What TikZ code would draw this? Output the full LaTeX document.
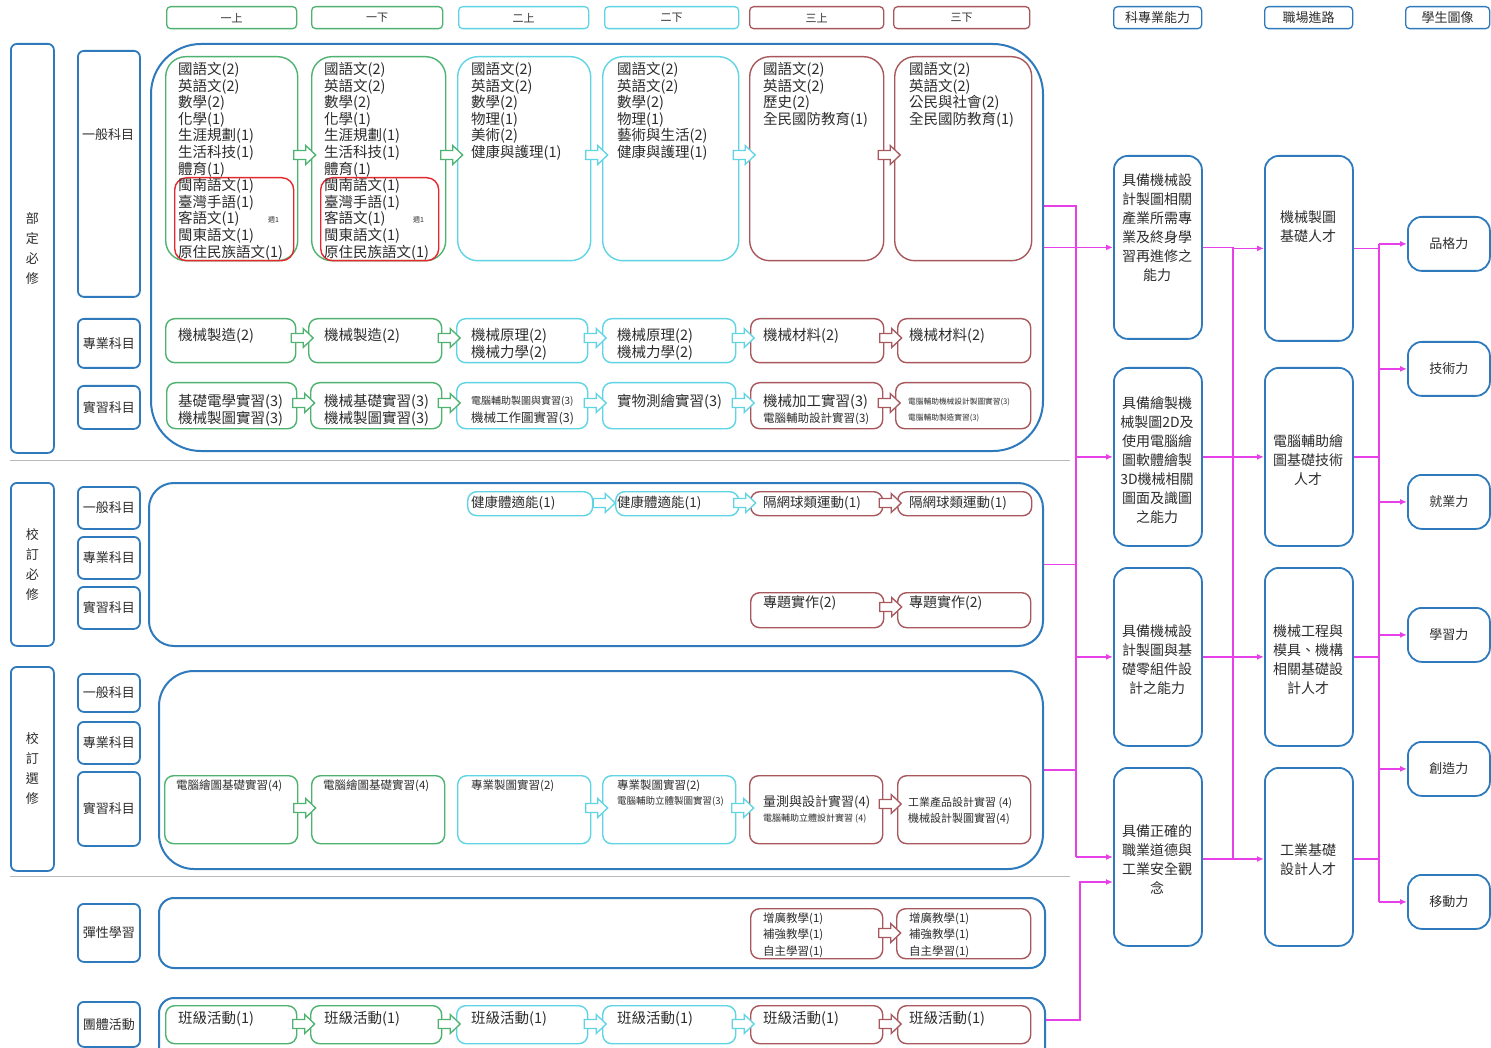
\documentclass[tikz,border=0pt]{standalone}
\usepackage{fontspec}
\setmainfont{Noto Sans CJK TC}
\usetikzlibrary{arrows.meta,calc}
\definecolor{cgreen}{RGB}{78,178,112}
\definecolor{ccyan}{RGB}{95,212,228}
\definecolor{cbrown}{RGB}{168,88,92}
\definecolor{cred}{RGB}{228,40,45}
\definecolor{cblue}{RGB}{46,122,188}
\definecolor{cmag}{RGB}{232,64,232}
\definecolor{ctext}{RGB}{45,45,45}
\newcommand\bx[7]{\pgfmathsetmacro\bxw{#5-#3}\pgfmathsetmacro\bxh{#6-#4}%
  \node[#2,minimum width=\bxw pt,minimum height=\bxh pt,anchor=north west] (#1) at (#3,#4) {#7};}
\newcommand\tx[6]{\node[anchor=north west,inner sep=0pt,align=left,text=ctext,font=\fontsize{#4}{#5}\selectfont] (#1) at (#2,{#3-0.48*#4}) {#6};}
\newcommand\ctx[5]{\node[inner sep=0pt,align=center,text=ctext,font=\fontsize{#4}{#5}\selectfont] at (#2,#3) {#1};}
\newcommand\barr[4]{\path ($(#2.east)!0.5!(#3.west)$) coordinate (#2#3mid); \pic[color=#1] at (#2#3mid |- 0,#4) {barr};}
\begin{document}
\begin{tikzpicture}[x=1pt,y=-1pt,
 hd/.style={draw=#1,line width=1.3pt,rounded corners=4pt,inner sep=0pt,font=\fontsize{11}{13}\selectfont,text=ctext},
 lb/.style={draw=cblue,line width=1.8pt,rounded corners=6pt,inner sep=0pt,align=center,font=\fontsize{13}{20}\selectfont,text=ctext},
 cont/.style={draw=cblue,line width=2pt,rounded corners=#1,inner sep=0pt},
 cb/.style={draw=#1,line width=1.4pt,rounded corners=9pt,inner sep=0pt},
 bigb/.style={draw=#1,line width=1.4pt,rounded corners=20pt,inner sep=0pt},
 redb/.style={draw=cred,line width=1.4pt,rounded corners=12pt,inner sep=0pt},
 rb/.style={draw=cblue,line width=1.8pt,rounded corners=14pt,inner sep=0pt,font=\fontsize{13}{15}\selectfont,text=ctext},
 mag/.style={draw=cmag,line width=1.4pt},
 magar/.style={mag,-{Latex[length=7pt,width=6pt]}},
 barr/.pic={\draw[fill=white,line width=1.3pt,line join=miter] (-11,-4.5) -- (1,-4.5) -- (1,-9.5) -- (11,0) -- (1,9.5) -- (1,4.5) -- (-11,4.5) -- cycle;}
]
\useasboundingbox (0,0) rectangle (1491,1048);
\fill[white] (0,0) rectangle (1491,1048);
% headers
\bx{h1}{hd=cgreen}{166}{6}{296}{28}{一上}
\bx{h2}{hd=cgreen}{311}{6}{442}{28}{一下}
\bx{h3}{hd=ccyan}{458}{6}{588}{28}{二上}
\bx{h4}{hd=ccyan}{604}{6}{738}{28}{二下}
\bx{h5}{hd=cbrown}{749}{6}{883}{28}{三上}
\bx{h6}{hd=cbrown}{893}{6}{1029}{28}{三下}
\bx{h7}{hd=cblue,font=\fontsize{13}{15}\selectfont}{1113}{6}{1201}{28}{科專業能力}
\bx{h8}{hd=cblue,font=\fontsize{13}{15}\selectfont}{1264}{6}{1352}{28}{職場進路}
\bx{h9}{hd=cblue,font=\fontsize{13}{15}\selectfont}{1405}{6}{1489}{28}{學生圖像}
% left labels
\bx{L1}{lb}{10}{43}{53}{452}{部\\定\\必\\修}
\bx{L2}{lb}{10}{482}{53}{645}{校\\訂\\必\\修}
\bx{L3}{lb}{10}{666}{53}{870}{校\\訂\\選\\修}
\bx{S1}{lb}{77}{50}{139}{296}{}
\ctx{一般科目}{108}{135}{13}{15}
\bx{S2}{lb}{77}{318}{139}{367}{專業科目}
\bx{S3}{lb}{77}{385}{139}{428}{實習科目}
\bx{S4}{lb}{77}{486}{139}{528}{一般科目}
\bx{S5}{lb}{77}{536}{139}{578}{專業科目}
\bx{S6}{lb}{77}{586}{139}{628}{實習科目}
\bx{S7}{lb}{77}{673}{139}{711}{一般科目}
\bx{S8}{lb}{77}{721}{139}{763}{專業科目}
\bx{S9}{lb}{77}{771}{139}{845}{實習科目}
\bx{S10}{lb}{77}{903}{139}{961}{彈性學習}
\bx{S11}{lb}{77}{1001}{139}{1046}{團體活動}
% separators
\draw[gray!55,line width=0.8pt] (10,460) -- (1070,460);
\draw[gray!55,line width=0.8pt] (10,876) -- (1070,876);
% containers
\bx{K1}{cont=50pt}{150}{43}{1042}{450}{}
\bx{K2}{cont=25pt}{148}{482}{1042}{645}{}
\bx{K3}{cont=35pt}{158}{670}{1042}{868}{}
\bx{K4}{cont=15pt}{158}{897}{1044}{967}{}
\bx{K5}{cont=15pt}{158}{997}{1044}{1066}{}
% row 1 general
\bx{g1}{bigb=cgreen}{165}{56}{297}{260}{}
\bx{r1}{redb}{174}{177}{293}{260}{}
\bx{g2}{bigb=cgreen}{311}{56}{445}{260}{}
\bx{r2}{redb}{320}{177}{438}{260}{}
\bx{g3}{bigb=ccyan}{457}{56}{590}{260}{}
\bx{g4}{bigb=ccyan}{602}{56}{738}{260}{}
\bx{g5}{bigb=cbrown}{749}{56}{883}{260}{}
\bx{g6}{bigb=cbrown}{894}{56}{1031}{260}{}
\tx{t1}{178}{69}{14.5}{16.6}{國語文(2)\\英語文(2)\\數學(2)\\化學(1)\\生涯規劃(1)\\生活科技(1)\\體育(1)\\閩南語文(1)\\臺灣手語(1)\\客語文(1)\\閩東語文(1)\\原住民族語文(1)}
\tx{w1}{268}{220}{7}{8}{週1}
\tx{t2}{324}{69}{14.5}{16.6}{國語文(2)\\英語文(2)\\數學(2)\\化學(1)\\生涯規劃(1)\\生活科技(1)\\體育(1)\\閩南語文(1)\\臺灣手語(1)\\客語文(1)\\閩東語文(1)\\原住民族語文(1)}
\tx{w2}{413}{220}{7}{8}{週1}
\tx{t3}{471}{69}{14.5}{16.6}{國語文(2)\\英語文(2)\\數學(2)\\物理(1)\\美術(2)\\健康與護理(1)}
\tx{t4}{617}{69}{14.5}{16.6}{國語文(2)\\英語文(2)\\數學(2)\\物理(1)\\藝術與生活(2)\\健康與護理(1)}
\tx{t5}{763}{69}{14.5}{16.6}{國語文(2)\\英語文(2)\\歷史(2)\\全民國防教育(1)}
\tx{t6}{909}{69}{14.5}{16.6}{國語文(2)\\英語文(2)\\公民與社會(2)\\全民國防教育(1)}
\barr{cgreen}{g1}{g2}{155}
\barr{cgreen}{g2}{g3}{155}
\barr{ccyan}{g3}{g4}{155}
\barr{ccyan}{g4}{g5}{155}
\barr{cbrown}{g5}{g6}{155}
% row 2 professional
\bx{p1}{cb=cgreen}{165}{318}{295}{362}{}
\bx{p2}{cb=cgreen}{308}{318}{441}{362}{}
\bx{p3}{cb=ccyan}{456}{318}{587}{362}{}
\bx{p4}{cb=ccyan}{602}{318}{735}{362}{}
\bx{p5}{cb=cbrown}{750}{318}{883}{362}{}
\bx{p6}{cb=cbrown}{897}{318}{1030}{362}{}
\tx{tp1}{178}{335}{14.5}{16.6}{機械製造(2)}
\tx{tp2}{324}{335}{14.5}{16.6}{機械製造(2)}
\tx{tp3}{471}{335}{14.5}{16.6}{機械原理(2)\\機械力學(2)}
\tx{tp4}{617}{335}{14.5}{16.6}{機械原理(2)\\機械力學(2)}
\tx{tp5}{763}{335}{14.5}{16.6}{機械材料(2)}
\tx{tp6}{909}{335}{14.5}{16.6}{機械材料(2)}
\barr{cgreen}{p1}{p2}{338}
\barr{cgreen}{p2}{p3}{338}
\barr{ccyan}{p3}{p4}{338}
\barr{ccyan}{p4}{p5}{338}
\barr{cbrown}{p5}{p6}{338}
% row 3 practice
\bx{q1}{cb=cgreen}{166}{382}{296}{428}{}
\bx{q2}{cb=cgreen}{310}{382}{441}{428}{}
\bx{q3}{cb=ccyan}{456}{382}{587}{428}{}
\bx{q4}{cb=ccyan}{602}{382}{735}{428}{}
\bx{q5}{cb=cbrown}{750}{382}{882}{428}{}
\bx{q6}{cb=cbrown}{895}{382}{1030}{428}{}
\tx{tq1}{178}{401}{14.5}{16.6}{基礎電學實習(3)\\機械製圖實習(3)}
\tx{tq2}{324}{401}{14.5}{16.6}{機械基礎實習(3)\\機械製圖實習(3)}
\tx{tq3a}{471}{401}{10}{12}{電腦輔助製圖與實習(3)}
\tx{tq3b}{471}{418}{12.5}{14}{機械工作圖實習(3)}
\tx{tq4}{617}{401}{14.5}{16.6}{實物測繪實習(3)}
\tx{tq5a}{763}{401}{14.5}{16.6}{機械加工實習(3)}
\tx{tq5b}{763}{418}{11.5}{13}{電腦輔助設計實習(3)}
\tx{tq6a}{908}{401}{7.7}{9}{電腦輔助機械設計製圖實習(3)}
\tx{tq6b}{908}{417}{7.7}{9}{電腦輔助製造實習(3)}
\barr{cgreen}{q1}{q2}{403}
\barr{cgreen}{q2}{q3}{403}
\barr{ccyan}{q3}{q4}{403}
\barr{ccyan}{q4}{q5}{403}
\barr{cbrown}{q5}{q6}{403}
% school required
\bx{m3}{cb=ccyan}{467}{491}{592}{515}{}
\bx{m4}{cb=ccyan}{615}{491}{738}{515}{}
\bx{m5}{cb=cbrown}{750}{491}{882}{515}{}
\bx{m6}{cb=cbrown}{897}{491}{1031}{515}{}
\tx{tm3}{471}{502}{13.5}{15}{健康體適能(1)}
\tx{tm4}{617}{502}{13.5}{15}{健康體適能(1)}
\tx{tm5}{763}{502}{13.5}{15}{隔網球類運動(1)}
\tx{tm6}{909}{502}{13.5}{15}{隔網球類運動(1)}
\barr{ccyan}{m3}{m4}{503}
\barr{ccyan}{m4}{m5}{503}
\barr{cbrown}{m5}{m6}{503}
\bx{n5}{cb=cbrown}{750}{592}{883}{627}{}
\bx{n6}{cb=cbrown}{897}{592}{1030}{627}{}
\tx{tn5}{763}{602}{14}{15}{專題實作(2)}
\tx{tn6}{909}{602}{14}{15}{專題實作(2)}
\barr{cbrown}{n5}{n6}{607}
% school elective
\bx{e1}{cb=cgreen}{164}{775}{297}{843}{}
\bx{e2}{cb=cgreen}{311}{775}{444}{843}{}
\bx{e3}{cb=ccyan}{457}{775}{590}{843}{}
\bx{e4}{cb=ccyan}{602}{775}{735}{843}{}
\bx{e5}{cb=cbrown}{749}{775}{882}{843}{}
\bx{e6}{cb=cbrown}{897}{775}{1030}{843}{}
\tx{te1}{176}{785}{11.5}{13}{電腦繪圖基礎實習(4)}
\tx{te2}{323}{785}{11.5}{13}{電腦繪圖基礎實習(4)}
\tx{te3}{471}{785}{11.5}{13}{專業製圖實習(2)}
\tx{te4a}{617}{785}{11.5}{13}{專業製圖實習(2)}
\tx{te4b}{617}{801}{9.5}{11}{電腦輔助立體製圖實習(3)}
\tx{te5a}{763}{802}{13}{15}{量測與設計實習(4)}
\tx{te5b}{763}{818}{9}{11}{電腦輔助立體設計實習 (4)}
\tx{te6}{908}{802}{11}{16}{工業產品設計實習 (4)\\機械設計製圖實習(4)}
\barr{cgreen}{e1}{e2}{808}
\barr{ccyan}{e3}{e4}{808}
\barr{ccyan}{e4}{e5}{808}
\barr{cbrown}{e5}{e6}{804}
% flexible
\bx{f5}{cb=cbrown}{750}{908}{882}{958}{}
\bx{f6}{cb=cbrown}{896}{908}{1030}{958}{}
\tx{tf5}{763}{918}{11.5}{16.5}{增廣教學(1)\\補強教學(1)\\自主學習(1)}
\tx{tf6}{909}{918}{11.5}{16.5}{增廣教學(1)\\補強教學(1)\\自主學習(1)}
\barr{cbrown}{f5}{f6}{933}
% group activity
\bx{k1}{cb=cgreen}{165}{1005}{296}{1043}{}
\bx{k2}{cb=cgreen}{310}{1005}{441}{1043}{}
\bx{k3}{cb=ccyan}{456}{1005}{587}{1043}{}
\bx{k4}{cb=ccyan}{602}{1005}{735}{1043}{}
\bx{k5}{cb=cbrown}{750}{1005}{882}{1043}{}
\bx{k6}{cb=cbrown}{897}{1005}{1030}{1043}{}
\tx{tk1}{178}{1018}{14.5}{16}{班級活動(1)}
\tx{tk2}{324}{1018}{14.5}{16}{班級活動(1)}
\tx{tk3}{471}{1018}{14.5}{16}{班級活動(1)}
\tx{tk4}{617}{1018}{14.5}{16}{班級活動(1)}
\tx{tk5}{763}{1018}{14.5}{16}{班級活動(1)}
\tx{tk6}{909}{1018}{14.5}{16}{班級活動(1)}
\barr{cgreen}{k1}{k2}{1024}
\barr{cgreen}{k2}{k3}{1024}
\barr{ccyan}{k3}{k4}{1024}
\barr{ccyan}{k4}{k5}{1024}
\barr{cbrown}{k5}{k6}{1024}
% right side boxes
\bx{A1}{rb}{1113}{155}{1201}{338}{}
\bx{A2}{rb}{1113}{367}{1201}{545}{}
\bx{A3}{rb}{1113}{567}{1201}{745}{}
\bx{A4}{rb}{1113}{767}{1201}{945}{}
\ctx{具備機械設\\計製圖相關\\產業所需專\\業及終身學\\習再進修之\\能力}{1157}{228}{14}{19}
\ctx{具備繪製機\\械製圖2D及\\使用電腦繪\\圖軟體繪製\\3D機械相關\\圖面及識圖\\之能力}{1157}{460}{14}{19}
\ctx{具備機械設\\計製圖與基\\礎零組件設\\計之能力}{1157}{660}{14}{19}
\ctx{具備正確的\\職業道德與\\工業安全觀\\念}{1157}{860}{14}{19}
\bx{B1}{rb}{1264}{155}{1352}{340}{}
\bx{B2}{rb}{1264}{367}{1352}{545}{}
\bx{B3}{rb}{1264}{567}{1352}{745}{}
\bx{B4}{rb}{1264}{767}{1352}{945}{}
\ctx{機械製圖\\基礎人才}{1308}{227}{14}{19}
\ctx{電腦輔助繪\\圖基礎技術\\人才}{1308}{460}{14}{19}
\ctx{機械工程與\\模具、機構\\相關基礎設\\計人才}{1308}{660}{14}{19}
\ctx{工業基礎\\設計人才}{1308}{860}{14}{19}
\bx{C1}{rb}{1407}{216}{1489}{270}{品格力}
\bx{C2}{rb}{1407}{341}{1489}{395}{技術力}
\bx{C3}{rb}{1407}{474}{1489}{528}{就業力}
\bx{C4}{rb}{1407}{607}{1489}{661}{學習力}
\bx{C5}{rb}{1407}{741}{1489}{795}{創造力}
\bx{C6}{rb}{1407}{874}{1489}{928}{移動力}
% magenta connectors: containers -> abilities
\coordinate (b1t) at (1076,206);
\coordinate (b1b) at (1076,857);
\draw[mag] (K1.east |- b1t) -- (b1t) -- (b1b);
\draw[magar] (K1.east |- A1.west) -- (A1.west);
\draw[magar] (b1t |- A2.west) -- (A2.west);
\draw[magar] (b1t |- A3.west) -- (A3.west);
\draw[magar] (b1b) -- (A4.west |- b1b);
\draw[mag] (K2.east) -- (b1t |- K2.east);
\draw[mag] (K3.east) -- (b1t |- K3.east);
\coordinate (b5a) at (1080,1020);
\coordinate (b5b) at (1080,882);
\draw[magar] (K5.east |- b5a) -- (b5a) -- (b5b) -- (A4.west |- b5b);
% abilities -> career
\coordinate (b2t) at (1233,247);
\coordinate (b2b) at (1233,859);
\draw[mag] (A1.east) -- (b2t |- A1.east);
\draw[mag] (b2t) -- (b2b);
\draw[magar] (b2t |- B1.west) -- (B1.west);
\draw[magar] (A2.east) -- (B2.west);
\draw[magar] (A3.east) -- (B3.west);
\draw[magar] (A4.east |- b2b) -- (B4.west |- b2b);
% career -> student image
\coordinate (b3t) at (1379,243);
\coordinate (b3b) at (1379,901);
\draw[mag] (B1.east) -- (b3t |- B1.east);
\draw[mag] (B2.east) -- (b3t |- B2.east);
\draw[mag] (B3.east) -- (b3t |- B3.east);
\draw[mag] (B4.east |- b2b) -- (b3t |- b2b);
\draw[mag] (b3t |- C1.west) -- (b3t |- C6.west);
\draw[magar] (b3t |- C1.west) -- (C1.west);
\draw[magar] (b3t |- C2.west) -- (C2.west);
\draw[magar] (b3t |- C3.west) -- (C3.west);
\draw[magar] (b3t |- C4.west) -- (C4.west);
\draw[magar] (b3t |- C5.west) -- (C5.west);
\draw[magar] (b3t |- C6.west) -- (C6.west);
\end{tikzpicture}
\end{document}
